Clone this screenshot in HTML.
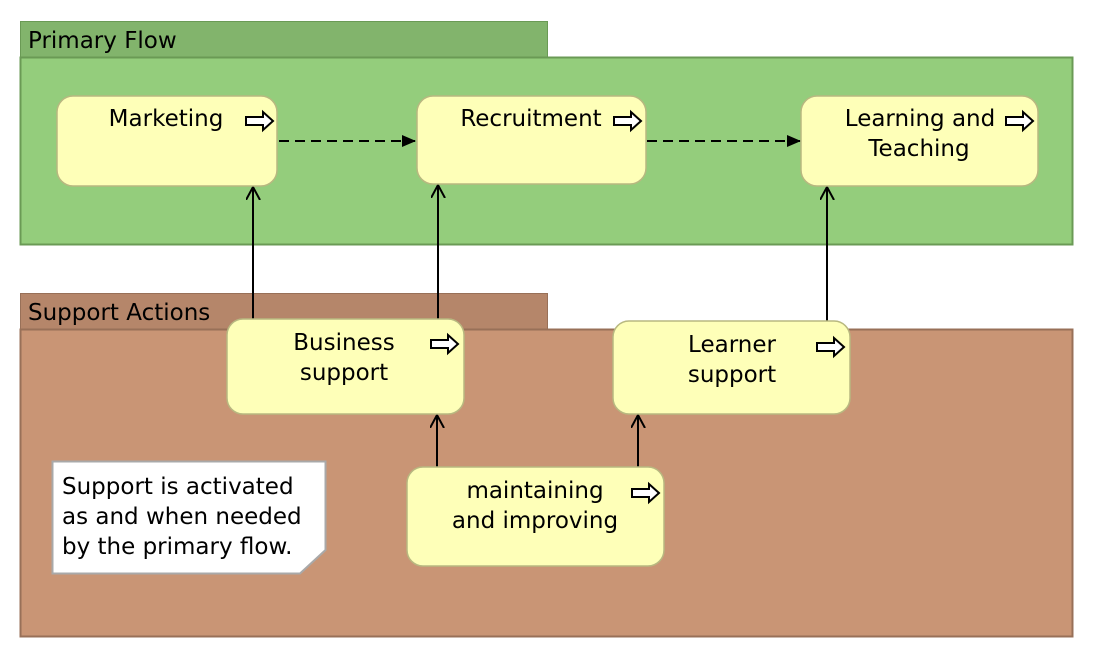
<!DOCTYPE html>
<html><head><meta charset="utf-8"><style>html,body{margin:0;padding:0;background:#fff}svg{display:block}</style></head>
<body>
<svg width="1094" height="658" viewBox="0 0 1094 658" xmlns="http://www.w3.org/2000/svg" font-family="'DejaVu Sans','Liberation Sans',sans-serif" font-size="23" fill="#000">
<defs>
<symbol id="ba" overflow="visible"><path d="M0,-4 L17,-4 L17,-9 L27,0 L17,9 L17,4 L0,4 Z" fill="#fff" stroke="#000" stroke-width="2"/></symbol>
<marker id="fa" markerWidth="14" markerHeight="12" refX="13" refY="6" orient="auto" markerUnits="userSpaceOnUse"><path d="M0,0 L14,6 L0,12 Z" fill="#000"/></marker>
<marker id="oa" markerWidth="14" markerHeight="16" refX="13" refY="7" orient="auto" markerUnits="userSpaceOnUse"><path d="M0,0 L13,7 L0,14" fill="none" stroke="#000" stroke-width="2"/></marker>
</defs>
<rect x="20.5" y="21.5" width="527" height="36" fill="#82b46c" stroke="#6a9a55"/>
<rect x="20.5" y="57.5" width="1052" height="187" fill="#94cd7c" stroke="#6a9a55" stroke-width="2"/>
<text x="28" y="48">Primary Flow</text>
<rect x="20.5" y="293.5" width="527" height="36" fill="#b5866a" stroke="#987058"/>
<rect x="20.5" y="329.5" width="1052" height="307" fill="#c99575" stroke="#987058" stroke-width="2"/>
<text x="28" y="320">Support Actions</text>

<g stroke="#000" stroke-width="2" fill="none">
<line x1="279" y1="141" x2="415" y2="141" stroke-dasharray="10,6" marker-end="url(#fa)"/>
<line x1="647" y1="141" x2="800" y2="141" stroke-dasharray="10,6" marker-end="url(#fa)"/>
<line x1="253" y1="320" x2="253" y2="187" marker-end="url(#oa)"/>
<line x1="438" y1="320" x2="438" y2="185" marker-end="url(#oa)"/>
<line x1="827" y1="322" x2="827" y2="187" marker-end="url(#oa)"/>
<line x1="437" y1="467" x2="437" y2="415" marker-end="url(#oa)"/>
<line x1="638" y1="467" x2="638" y2="415" marker-end="url(#oa)"/>
</g>

<g fill="#feffb8" stroke="#b8b880" stroke-width="1.5">
<rect x="57" y="96" width="220" height="90" rx="16"/>
<rect x="417" y="96" width="229" height="88" rx="16"/>
<rect x="801" y="96" width="237" height="90" rx="16"/>
<rect x="227" y="319" width="237" height="95" rx="16"/>
<rect x="613" y="321" width="237" height="93" rx="16"/>
<rect x="407" y="467" width="257" height="99" rx="16"/>
</g>
<g text-anchor="middle">
<text x="166" y="126">Marketing</text>
<text x="531" y="126">Recruitment</text>
<text x="920" y="126">Learning and</text>
<text x="919" y="156">Teaching</text>
<text x="344" y="350">Business</text>
<text x="344" y="380">support</text>
<text x="732" y="352">Learner</text>
<text x="732" y="382">support</text>
<text x="535" y="498">maintaining</text>
<text x="535" y="528">and improving</text>
</g>
<use href="#ba" x="246" y="121"/>
<use href="#ba" x="614" y="121"/>
<use href="#ba" x="1006" y="121"/>
<use href="#ba" x="431" y="344"/>
<use href="#ba" x="817" y="347"/>
<use href="#ba" x="632" y="493"/>

<path d="M52.5,461.5 L325.5,461.5 L325.5,550 L300,573.5 L52.5,573.5 Z" fill="#fff" stroke="#a9a9a9" stroke-width="2"/>
<text x="62" y="494">Support is activated</text>
<text x="62" y="524">as and when needed</text>
<text x="62" y="554">by the primary flow.</text>
</svg>
</body></html>
